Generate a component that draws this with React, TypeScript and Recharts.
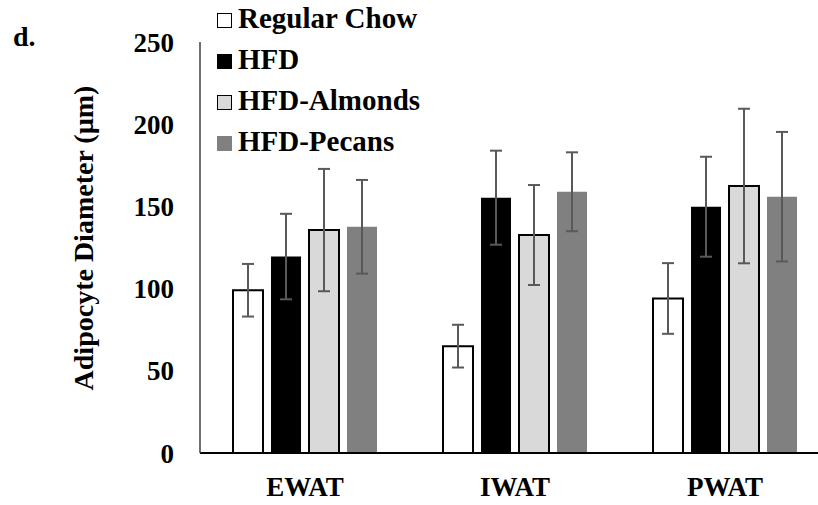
import { BarChart, Bar, XAxis, YAxis, ErrorBar, Legend, Label } from "recharts";

const categories = ["EWAT", "IWAT", "PWAT"];

const regularChow = [99, 65, 94];
const regularChowErr = [16, 13, 21.5];
const hfd = [119.5, 155.3, 149.8];
const hfdErr = [26, 28.6, 30.4];
const hfdAlmonds = [135.6, 132.6, 162.4];
const hfdAlmondsErr = [37.2, 30.4, 47];
const hfdPecans = [137.6, 158.9, 155.9];
const hfdPecansErr = [28.5, 24, 39.4];

const yTicks = [0, 50, 100, 150, 200, 250];

const FONT = "'Liberation Serif', 'Times New Roman', serif";

const series = [
  { key: "chow", name: "Regular Chow", values: regularChow, errors: regularChowErr, fill: "#ffffff", stroke: "#000000" },
  { key: "hfd", name: "HFD", values: hfd, errors: hfdErr, fill: "#000000", stroke: "none" },
  { key: "almonds", name: "HFD-Almonds", values: hfdAlmonds, errors: hfdAlmondsErr, fill: "#d9d9d9", stroke: "#000000" },
  { key: "pecans", name: "HFD-Pecans", values: hfdPecans, errors: hfdPecansErr, fill: "#808080", stroke: "none" },
];

const data = categories.map((category, i) => {
  const row: Record<string, string | number> = { category };
  series.forEach((s) => {
    row[s.key] = s.values[i];
    row[s.key + "Err"] = s.errors[i];
  });
  return row;
});

const tickStyle = { fontSize: 27, fontWeight: "bold", fill: "#000", fontFamily: FONT };

function LegendBox() {
  return (
    <div style={{ fontFamily: FONT, fontWeight: "bold", fontSize: 29, color: "#000" }}>
      {series.map((s) => (
        <div key={s.key} style={{ display: "flex", alignItems: "center", height: 41, lineHeight: "41px" }}>
          <span
            style={{
              display: "inline-block",
              width: 13,
              height: 13,
              marginTop: 3,
              marginRight: 6,
              background: s.fill,
              border: `1.5px solid ${s.stroke === "none" ? s.fill : s.stroke}`,
            }}
          />
          <span>{s.name}</span>
        </div>
      ))}
    </div>
  );
}

export default function App() {
  return (
    <div style={{ position: "absolute", left: 0, top: 0, width: 818, height: 505, overflow: "hidden", background: "#fff" }}>
      <div
        style={{
          position: "absolute",
          left: 13,
          top: 23,
          fontFamily: FONT,
          fontWeight: "bold",
          fontSize: 28,
          lineHeight: "28px",
        }}
      >
        d.
      </div>
      <BarChart
        width={830}
        height={505}
        data={data}
        margin={{ top: 42, right: 0, bottom: 22, left: 0 }}
        barSize={30}
        barGap={8}
      >
        <XAxis
          dataKey="category"
          height={30}
          tickLine={false}
          tickSize={0}
          tickMargin={24}
          axisLine={{ stroke: "#000", strokeWidth: 2 }}
          tick={tickStyle}
        />
        <YAxis
          width={200}
          domain={[0, 250]}
          ticks={yTicks}
          tickLine={false}
          tickSize={0}
          tickMargin={26}
          axisLine={{ stroke: "#404040", strokeWidth: 1.5 }}
          tick={tickStyle}
        >
          <Label
            content={() => (
              <text
                x={93}
                y={238}
                transform="rotate(-90, 93, 238)"
                textAnchor="middle"
                style={{ ...tickStyle, fontSize: 28 }}
              >
                Adipocyte Diameter (µm)
              </text>
            )}
          />
        </YAxis>
        <Legend
          layout="vertical"
          align="center"
          verticalAlign="middle"
          wrapperStyle={{ top: -2, left: 217, width: 320 }}
          content={() => <LegendBox />}
        />
        {series.map((s) => (
          <Bar
            key={s.key}
            dataKey={s.key}
            name={s.name}
            fill={s.fill}
            stroke={s.stroke}
            strokeWidth={2}
            isAnimationActive={false}
          >
            <ErrorBar dataKey={s.key + "Err"} width={6} stroke="#595959" strokeWidth={2} direction="y" isAnimationActive={false} />
          </Bar>
        ))}
      </BarChart>
    </div>
  );
}
